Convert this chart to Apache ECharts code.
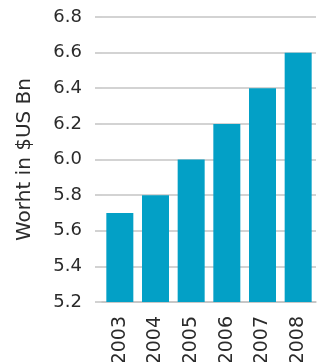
<!DOCTYPE html>
<html>
<head>
<meta charset="utf-8">
<script src="https://cdn.jsdelivr.net/npm/echarts@6/dist/echarts.min.js"></script>
<style>
  html, body { margin: 0; padding: 0; background: #fff; }
  #main { width: 319px; height: 362px; }
</style>
</head>
<body>
<div id="main"></div>
<script>
// 年份和数值
var years = ['2003', '2004', '2005', '2006', '2007', '2008'];
var worth = [5.7, 5.8, 6.0, 6.2, 6.4, 6.6];
var yMin = 5.2, yMax = 6.8, yStep = 0.2;

var chart = echarts.init(document.getElementById('main'));
chart.setOption({
    animation: false,
    textStyle: { fontFamily: 'DejaVu Sans' },
    grid: {
        top: 17,
        left: 102,
        right: 3,
        bottom: 60,
        outerBoundsMode: 'none'
    },
    xAxis: {
        type: 'category',
        data: years,
        axisLine: { show: true, lineStyle: { color: '#c4c4c4', width: 1.5 } },
        axisTick: { show: false },
        axisLabel: {
            rotate: 90,
            margin: 14,
            color: '#2b2b2b',
            fontSize: 19
        }
    },
    yAxis: {
        type: 'value',
        min: yMin,
        max: yMax,
        interval: yStep,
        name: 'Worht in $US Bn',
        nameLocation: 'middle',
        nameGap: 67,
        nameTextStyle: { color: '#2b2b2b', fontSize: 20 },
        axisLine: { show: false },
        axisTick: { show: true, inside: false, length: 7, lineStyle: { color: '#c4c4c4', width: 1.5 } },
        axisLabel: {
            margin: 20,
            color: '#2b2b2b',
            fontSize: 18,
            formatter: function (v) { return v.toFixed(1); }
        },
        splitLine: { lineStyle: { color: '#c4c4c4', width: 1.5 } }
    },
    series: [{
        type: 'bar',
        data: worth,
        barWidth: 27,
        itemStyle: { color: '#03a0c6' }
    }]
});
</script>
</body>
</html>
